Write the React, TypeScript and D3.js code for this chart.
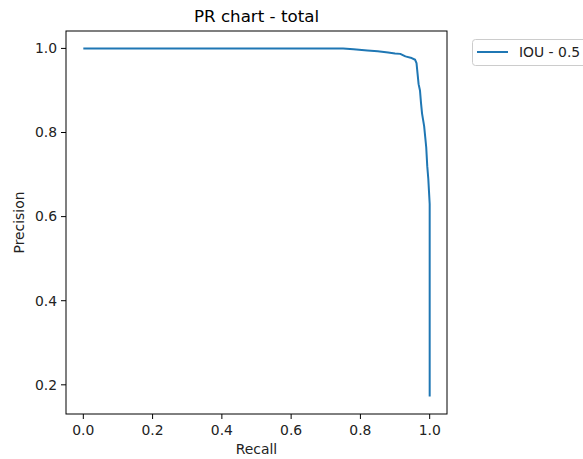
import React from "react";
import * as d3 from "d3";

const recall = [0, 0.75, 0.78, 0.82, 0.85, 0.88, 0.9, 0.915, 0.93, 0.945, 0.958, 0.962, 0.965, 0.968, 0.972, 0.975, 0.978, 0.981, 0.984, 0.987, 0.99, 0.993, 0.996, 0.998, 1.0, 1.0];
const precision = [1.0, 1.0, 0.998, 0.995, 0.993, 0.99, 0.988, 0.987, 0.981, 0.978, 0.973, 0.965, 0.94, 0.915, 0.9, 0.87, 0.845, 0.83, 0.815, 0.79, 0.765, 0.72, 0.69, 0.66, 0.63, 0.172];
const xTicks = [0, 0.2, 0.4, 0.6, 0.8, 1.0];
const yTicks = [0.2, 0.4, 0.6, 0.8, 1.0];
const seriesName = "IOU - 0.5";
const title = "PR chart - total";

export default function App() {
  const W = 583, H = 459;
  const left = 66, right = 447, top = 31, bottom = 414;
  const x = d3.scaleLinear().domain([-0.05, 1.05]).range([left, right]);
  const y = d3.scaleLinear().domain([0.1306, 1.0414]).range([bottom, top]);
  const pts = recall.map((r, i) => [r, precision[i]] as [number, number]);
  const line = d3.line<[number, number]>().x(d => x(d[0])).y(d => y(d[1]));
  const font = "DejaVu Sans, sans-serif";
  const fs = 13.9;
  return (
    <svg width={W} height={H} style={{ position: "absolute", left: 0, top: 0, background: "#fff" }} fontFamily={font}>
      <rect x={0} y={0} width={W} height={H} fill="#fff" />
      <text x={(left + right) / 2} y={22} textAnchor="middle" fontSize={16.7} fill="#000">{title}</text>
      <path d={line(pts) || ""} fill="none" stroke="#1f77b4" strokeWidth={2} strokeLinejoin="round" />
      <rect x={left} y={top} width={right - left} height={bottom - top} fill="none" stroke="#000" strokeWidth={1} />
      {xTicks.map(t => (
        <g key={"x" + t}>
          <line x1={x(t)} x2={x(t)} y1={bottom} y2={bottom + 5} stroke="#000" strokeWidth={1} />
          <text x={x(t)} y={bottom + 21} textAnchor="middle" fontSize={fs} fill="#222">{t.toFixed(1)}</text>
        </g>
      ))}
      {yTicks.map(t => (
        <g key={"y" + t}>
          <line x1={left - 5} x2={left} y1={y(t)} y2={y(t)} stroke="#000" strokeWidth={1} />
          <text x={left - 9} y={y(t)} dy="0.35em" textAnchor="end" fontSize={fs} fill="#222">{t.toFixed(1)}</text>
        </g>
      ))}
      <text x={(left + right) / 2} y={454} textAnchor="middle" fontSize={fs} fill="#222">Recall</text>
      <text transform={`translate(24, ${(top + bottom) / 2}) rotate(-90)`} textAnchor="middle" fontSize={fs} fill="#222">Precision</text>
      <rect x={472.5} y={39.5} width={118} height={26} rx={3} fill="#fff" stroke="#ccc" strokeWidth={1} />
      <line x1={477} x2={508} y1={52} y2={52} stroke="#1f77b4" strokeWidth={2} />
      <text x={519} y={52} dy="0.35em" fontSize={fs} fill="#222">{seriesName}</text>
    </svg>
  );
}
